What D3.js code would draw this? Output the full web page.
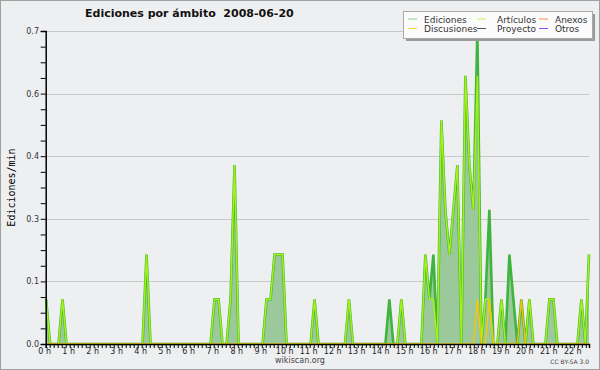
<!DOCTYPE html>
<html>
<head>
<meta charset="utf-8">
<script src="https://cdn.jsdelivr.net/npm/d3@7"></script>
<style>
  html, body { margin: 0; padding: 0; background: #eeeff0; }
  svg { display: block; }
  text { font-family: "DejaVu Sans", sans-serif; }
</style>
</head>
<body>
<div id="viz"></div>
<script>
// sample times (HH:MM) and edits per minute
const times = [
  "00:01","00:11","00:32","00:42","00:52","04:02","04:12","04:22",
  "06:52","07:02","07:12","07:22","07:32","07:42","07:52","08:02",
  "09:02","09:12","09:22","09:32","09:42","09:52","10:02",
  "11:02","11:12","11:22","12:28","12:38","12:48",
  "14:09","14:19","14:29","14:39","14:49","14:59",
  "15:39","15:49","15:59","16:09","16:19","16:29","16:39","16:49","16:59",
  "17:09","17:19","17:29","17:39","17:49","17:59","18:09","18:19","18:29",
  "18:39","18:49","18:59","19:09","19:19","19:29","19:39","19:49","19:59",
  "20:09","20:19","20:49","20:59","21:09","21:19","22:09","22:19","22:29","22:38"
];
const ediciones = [
  0.1, 0, 0, 0.1, 0, 0, 0.2, 0,
  0, 0.1, 0.1, 0, 0, 0.1, 0.4, 0,
  0, 0.1, 0.1, 0.2, 0.2, 0.2, 0,
  0, 0.1, 0, 0, 0.1, 0,
  0, 0.1, 0, 0, 0.1, 0,
  0, 0.2, 0.1, 0.2, 0, 0.5, 0.3, 0.2, 0.3,
  0.4, 0, 0.6, 0.4, 0.3, 0.7, 0, 0.1, 0.3,
  0, 0, 0.1, 0, 0.2, 0.1, 0, 0.1, 0,
  0.1, 0, 0, 0.1, 0.1, 0, 0, 0.1, 0, 0.2
];
const articulos = [
  0.1, 0, 0, 0.1, 0, 0, 0.2, 0,
  0, 0.1, 0.1, 0, 0, 0.1, 0.4, 0,
  0, 0.1, 0.1, 0.2, 0.2, 0.2, 0,
  0, 0.1, 0, 0, 0.1, 0,
  0, 0, 0, 0, 0.1, 0,
  0, 0.2, 0.1, 0.1, 0, 0.5, 0.3, 0.2, 0.3,
  0.4, 0, 0.6, 0.4, 0.3, 0.6, 0, 0.1, 0.1,
  0, 0, 0.1, 0, 0, 0, 0, 0, 0,
  0.1, 0, 0, 0.1, 0.1, 0, 0, 0.1, 0, 0.2
];
const discusiones = [
  0, 0, 0, 0, 0, 0, 0, 0,
  0, 0, 0, 0, 0, 0, 0, 0,
  0, 0, 0, 0, 0, 0, 0,
  0, 0, 0, 0, 0, 0,
  0, 0, 0, 0, 0, 0,
  0, 0, 0, 0, 0, 0, 0, 0, 0,
  0, 0, 0, 0, 0, 0.1, 0, 0, 0.1,
  0, 0, 0, 0, 0, 0, 0, 0.1, 0,
  0, 0, 0, 0, 0, 0, 0, 0, 0, 0
];
// no edits in these namespaces that day
const proyecto = [];
const anexos = [];
const otros = [];

const hourLabels = ["0 h","1 h","2 h","3 h","4 h","5 h","6 h","7 h","8 h","9 h","10 h",
  "11 h","12 h","13 h","14 h","15 h","16 h","17 h","18 h","19 h","20 h","21 h","22 h"];
const yTickValues = [0, 0.14, 0.28, 0.42, 0.56, 0.7];
const yTickLabels = ["0.0", "0.1", "0.3", "0.4", "0.6", "0.7"];
const endTime = "22:38";

const legendItems = [
  { name: "Ediciones", color: "#8fd08f", col: 0, row: 0 },
  { name: "Artículos", color: "#ccf05a", col: 1, row: 0 },
  { name: "Anexos", color: "#ff8c4a", col: 2, row: 0 },
  { name: "Discusiones", color: "#ffd040", col: 0, row: 1 },
  { name: "Proyecto", color: "#555555", col: 1, row: 1 },
  { name: "Otros", color: "#9a40ff", col: 2, row: 1 }
];

function toMin(s) {
  const p = s.split(":");
  return +p[0] * 60 + +p[1];
}

const width = 600, height = 370;
const margin = { top: 31, right: 11, bottom: 26, left: 45.7 };

const svg = d3.select("#viz").append("svg")
  .attr("width", width)
  .attr("height", height);

svg.append("rect")
  .attr("x", 0.5).attr("y", 0.5)
  .attr("width", width - 1).attr("height", height - 1)
  .attr("fill", "#eeeff0")
  .attr("stroke", "#a0a0a0");

const x = d3.scaleLinear()
  .domain([0, toMin(endTime)])
  .range([margin.left, width - margin.right]);

const y = d3.scaleLinear()
  .domain([0, 0.7])
  .range([height - margin.bottom, margin.top]);

// grid
svg.append("g")
  .selectAll("line")
  .data(yTickValues.slice(1))
  .enter().append("line")
  .attr("x1", x(0)).attr("x2", x.range()[1])
  .attr("y1", d => Math.round(y(d)) + 0.5)
  .attr("y2", d => Math.round(y(d)) + 0.5)
  .attr("stroke", "#c8c8c8");

// series
const pts = times.map((t, i) => ({ t: toMin(t), i }));

const area = d3.area()
  .x(d => x(d.t))
  .y0(y(0))
  .y1(d => y(ediciones[d.i]));

svg.append("path")
  .attr("d", area(pts))
  .attr("fill", "#9cc99c");

function line(values) {
  return d3.line()
    .x(d => x(d.t))
    .y(d => y(values[d.i]))(pts);
}

svg.append("path")
  .attr("d", line(ediciones))
  .attr("fill", "none")
  .attr("stroke", "#3fb43f")
  .attr("stroke-width", 2.6);

svg.append("path")
  .attr("d", line(articulos))
  .attr("fill", "none")
  .attr("stroke", "#a6f214")
  .attr("stroke-width", 1.5);

svg.append("path")
  .attr("d", line(discusiones))
  .attr("fill", "none")
  .attr("stroke", "#ffc400")
  .attr("stroke-width", 1.3);

// x axis
const xTicks = d3.range(0, toMin(endTime) + 1, 10);
const xAxis = svg.append("g")
  .attr("transform", `translate(0,${y(0)})`)
  .call(d3.axisBottom(x).tickValues(xTicks).tickSize(4).tickFormat(""));
xAxis.select(".domain").attr("stroke", "#000").attr("stroke-width", 1.5);
xAxis.selectAll(".tick line").attr("stroke", "#000");

svg.append("g")
  .selectAll("text")
  .data(hourLabels)
  .enter().append("text")
  .attr("x", (d, i) => x(i * 60) - 1)
  .attr("y", 354)
  .attr("text-anchor", "middle")
  .attr("font-size", "8px")
  .attr("fill", "#222")
  .text(d => d);

// y axis
const yMinor = d3.range(0, 21).map(i => i * 0.035);
const yAxis = svg.append("g")
  .attr("transform", `translate(${margin.left},0)`)
  .call(d3.axisLeft(y).tickValues(yMinor).tickSize(5).tickFormat(""));
yAxis.select(".domain").attr("stroke", "#000").attr("stroke-width", 1.5);
yAxis.selectAll(".tick line").attr("stroke", "#000");

svg.append("g")
  .selectAll("text")
  .data(yTickValues)
  .enter().append("text")
  .attr("x", 39)
  .attr("y", d => y(d) + 3)
  .attr("text-anchor", "end")
  .attr("font-size", "8px")
  .attr("fill", "#333")
  .text((d, i) => yTickLabels[i]);

svg.append("text")
  .attr("transform", `translate(15,${(y(0) + y(0.7)) / 2}) rotate(-90)`)
  .attr("text-anchor", "middle")
  .style("font-family", "'DejaVu Sans Mono', monospace")
  .attr("font-size", "10px")
  .attr("fill", "#000")
  .text("Ediciones/min");

// title
svg.append("text")
  .attr("x", 85)
  .attr("y", 17)
  .attr("font-size", "11px")
  .attr("font-weight", "bold")
  .attr("fill", "#111")
  .attr("xml:space", "preserve")
  .text("Ediciones por ámbito  2008-06-20");

// footer
svg.append("text")
  .attr("x", 300).attr("y", 363)
  .attr("text-anchor", "middle")
  .attr("font-size", "8px")
  .attr("fill", "#444")
  .text("wikiscan.org");

svg.append("text")
  .attr("x", 589).attr("y", 364)
  .attr("text-anchor", "end")
  .attr("font-size", "6px")
  .attr("fill", "#444")
  .text("CC BY-SA 3.0");

// legend
const lg = svg.append("g");
lg.append("rect")
  .attr("x", 406).attr("y", 14)
  .attr("width", 189).attr("height", 27)
  .attr("fill", "#9a9a9a");
lg.append("rect")
  .attr("x", 403.5).attr("y", 11.5)
  .attr("width", 189).attr("height", 27)
  .attr("fill", "#fbfbfb")
  .attr("stroke", "#aaa");

const colX = [408, 477, 539];
const rowY = [19, 28.5];
const item = lg.selectAll(".item")
  .data(legendItems)
  .enter().append("g");
item.append("line")
  .attr("x1", d => colX[d.col]).attr("x2", d => colX[d.col] + 9)
  .attr("y1", d => rowY[d.row]).attr("y2", d => rowY[d.row])
  .attr("stroke", d => d.color)
  .attr("stroke-width", 1);
item.append("text")
  .attr("x", d => colX[d.col] + (d.col === 1 ? 20 : 16))
  .attr("y", d => rowY[d.row] + 3.5)
  .attr("font-size", "9px")
  .attr("fill", "#333")
  .text(d => d.name);
</script>
</body>
</html>
